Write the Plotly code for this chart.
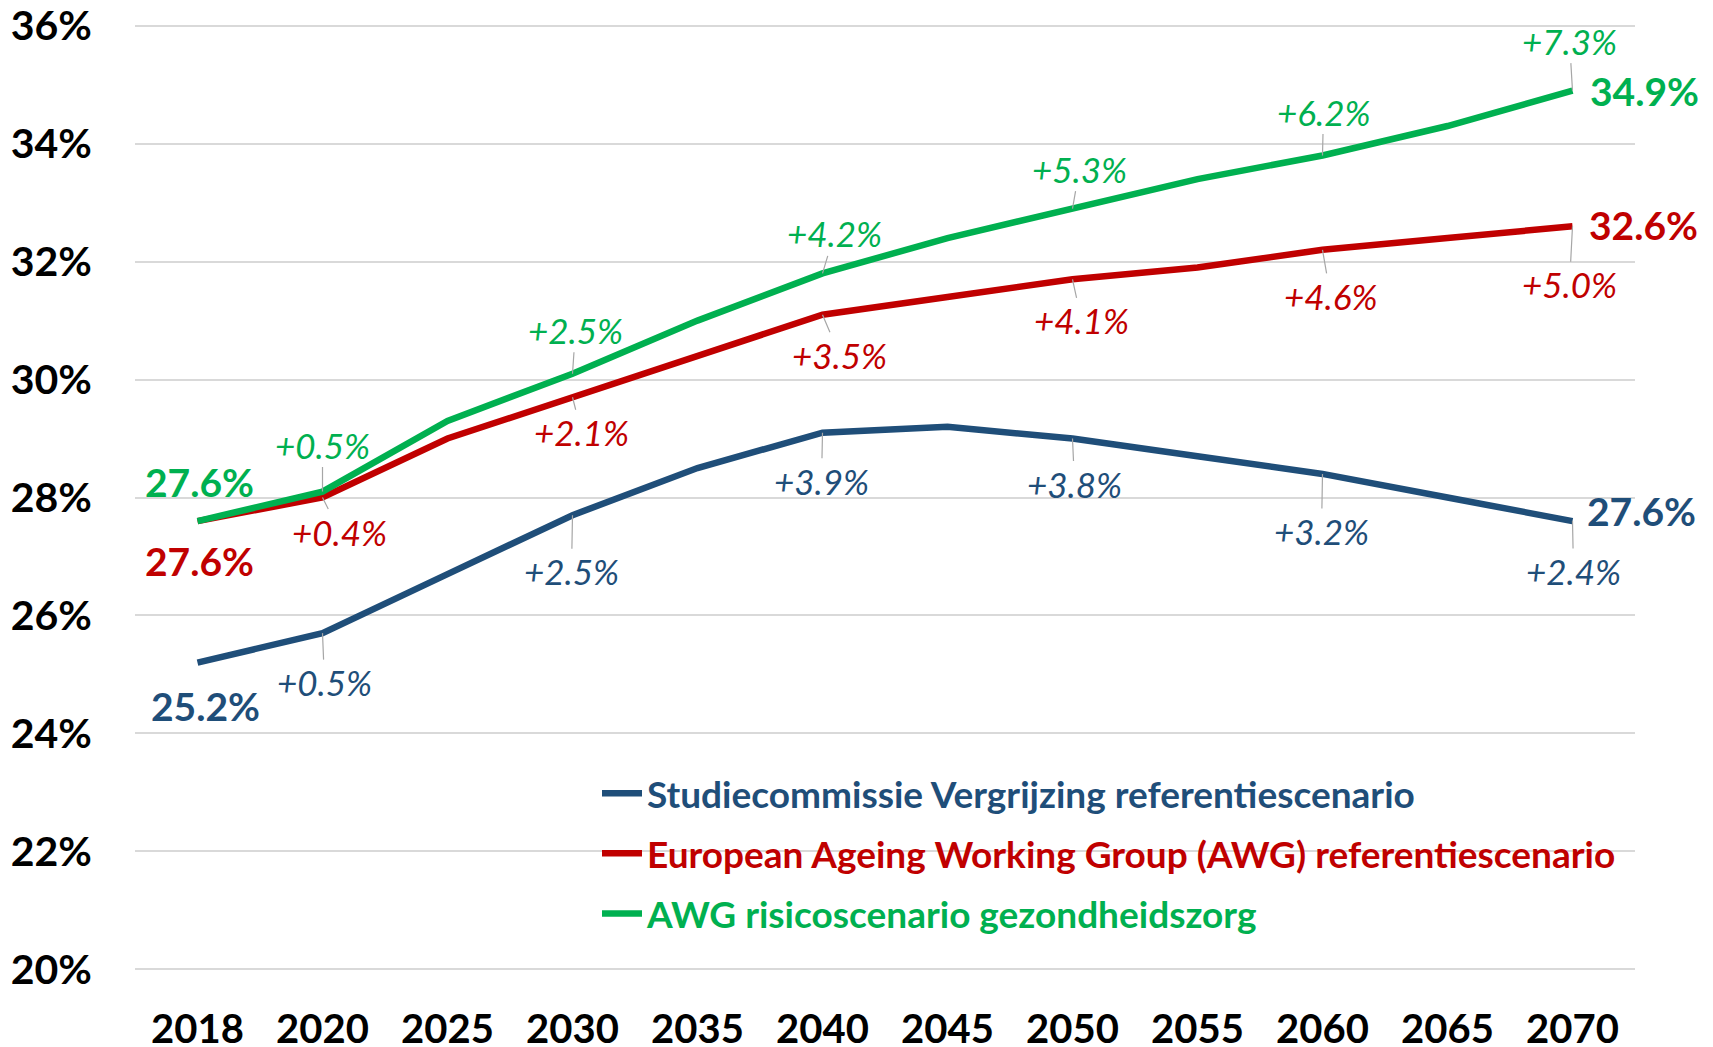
import plotly.graph_objects as go

years = ["2018", "2020", "2025", "2030", "2035", "2040", "2045", "2050", "2055", "2060", "2065", "2070"]
studie = [25.2, 25.7, 26.7, 27.7, 28.5, 29.1, 29.2, 29.0, 28.7, 28.4, 28.0, 27.6]
awg_ref = [27.6, 28.0, 29.0, 29.7, 30.4, 31.1, 31.4, 31.7, 31.9, 32.2, 32.4, 32.6]
awg_risk = [27.6, 28.1, 29.3, 30.1, 31.0, 31.8, 32.4, 32.9, 33.4, 33.8, 34.3, 34.9]

names = [
    "Studiecommissie Vergrijzing referentiescenario",
    "European Ageing Working Group (AWG) referentiescenario",
    "AWG risicoscenario gezondheidszorg",
]
colors = ["#1F4E79", "#C00000", "#00B050"]
y_ticks = [20, 22, 24, 26, 28, 30, 32, 34, 36]
label_idx = [1, 3, 5, 7, 9, 11]

FONT = "Lato, sans-serif"

fig = go.Figure()
series = [studie, awg_ref, awg_risk]
for i, (vals, nm, col) in enumerate(zip(series, names, colors)):
    fig.add_trace(go.Scatter(
        x=years, y=vals, mode="lines",
        name=f"<span style='color:{col}'><b>{nm}</b></span>",
        line=dict(color=col, width=6.5),
        legendgroup=f"g{i}",
    ))

# change-label offsets (pixels): blue, red, green
offsets = [
    [(2, 49), (-1, 56), (-1, 48), (2, 45), (-1, 57), (1, 50)],
    [(17, 34), (9, 35), (17, 40), (9, 41), (8, 46), (-3, 58)],
    [(0, -47), (3, -44), (12, -40), (7, -40), (1, -44), (-3, -50)],
]
for s, vals in enumerate(series):
    for k, idx in enumerate(label_idx):
        chg = vals[idx] - vals[0]
        ax, ay = offsets[s][k]
        fig.add_annotation(
            x=idx, y=vals[idx], xref="x", yref="y",
            text=f"<i>{chg:+.1f}%</i>", showarrow=True, arrowhead=0,
            arrowwidth=1.2, arrowcolor="#A6A6A6", ax=ax, ay=ay,
            font=dict(family=FONT, size=35, color=colors[s]),
        )

# start / end labels
start_off = [(8, 43), (2, 40), (2, -39)]
end_off = [(69, -10), (71, -1), (72, 0)]
for s, vals in enumerate(series):
    for idx, (dx, dy) in ((0, start_off[s]), (len(years) - 1, end_off[s])):
        fig.add_annotation(
            x=idx, y=vals[idx], xref="x", yref="y",
            text=f"<b>{vals[idx]:.1f}%</b>", showarrow=False,
            xshift=dx, yshift=-dy,
            font=dict(family=FONT, size=39, color=colors[s]),
        )

fig.update_layout(
    width=1705, height=1039,
    margin=dict(l=127, r=78, t=16, b=76, autoexpand=False),
    paper_bgcolor="white", plot_bgcolor="white",
    showlegend=True,
    legend=dict(
        x=0.308, y=0.22, xanchor="left", yanchor="top",
        font=dict(family=FONT, size=37),
        bgcolor="rgba(0,0,0,0)", tracegroupgap=9,
        itemwidth=40,
    ),
)
fig.update_xaxes(
    type="category", range=[-0.5, 11.5], showgrid=False, zeroline=False,
    showline=False, ticks="outside", ticklen=23, tickcolor="rgba(0,0,0,0)",
    automargin=False,
    tickfont=dict(family=FONT, size=40, color="black", weight="bold"),
)
fig.update_yaxes(
    range=[19.97, 36.03], tickvals=y_ticks, ticktext=[f"{v}%" for v in y_ticks],
    showgrid=True, gridcolor="#D9D9D9", gridwidth=1.5, zeroline=False,
    showline=False, ticks="outside", ticklen=34, tickcolor="rgba(0,0,0,0)",
    automargin=False, ticklabeloverflow="allow",
    tickfont=dict(family=FONT, size=41, color="black", weight="bold"),
)

fig.write_html("out.html")
